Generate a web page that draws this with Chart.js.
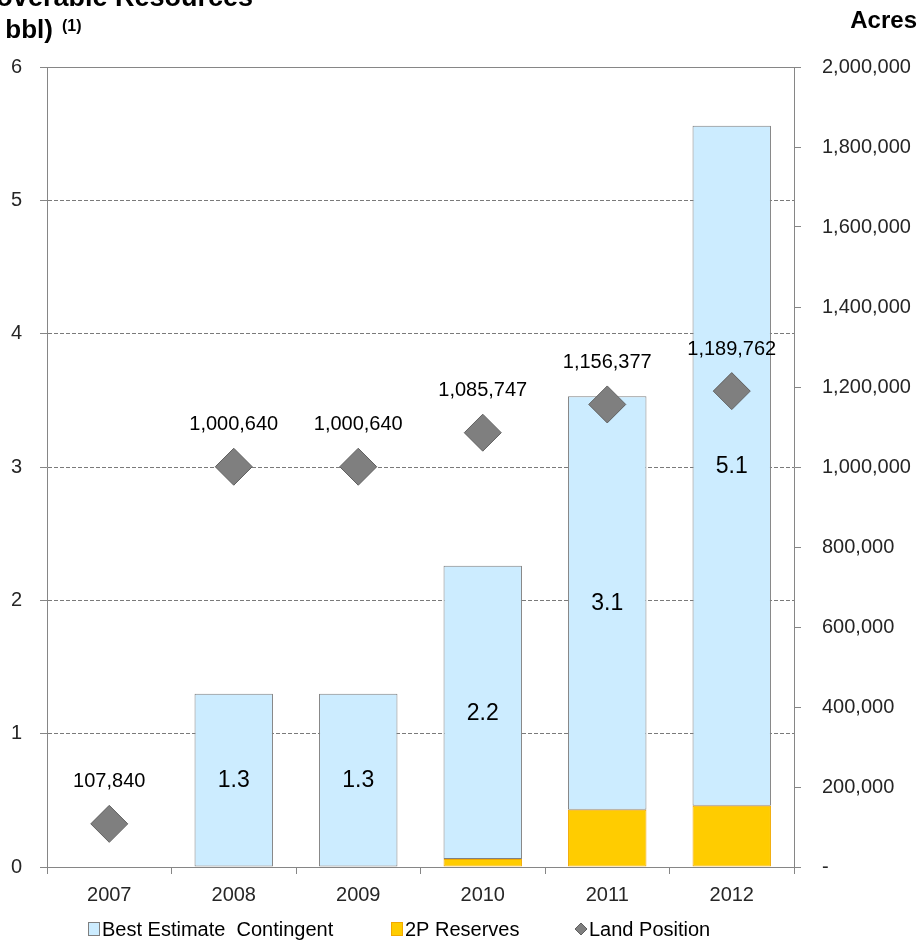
<!DOCTYPE html>
<html>
<head>
<meta charset="utf-8">
<script src="https://cdn.jsdelivr.net/npm/chart.js@4/dist/chart.umd.min.js"></script>
<style>
  html, body { margin: 0; padding: 0; background: #fff; }
  #wrap { width: 922px; height: 940px; position: relative; }
</style>
</head>
<body>
<div id="wrap"><canvas id="c" width="922" height="940"></canvas></div>
<script>
// Years on the category axis
const years = ['2007', '2008', '2009', '2010', '2011', '2012'];
// Recoverable resources, MM bbl
const reserves2P = [null, null, null, 0.06, 0.43, 0.46];
const bestEstimateContingent = [null, 1.3, 1.3, 2.2, 3.1, 5.1];
// Land position, acres
const landPosition = [107840, 1000640, 1000640, 1085747, 1156377, 1189762];
// Axis ranges
const leftAxisMax = 6;
const rightAxisMax = 2000000;
const rightAxisStep = 200000;

const FONT = "'Liberation Sans', Arial, sans-serif";
const fmt = v => Math.round(v).toLocaleString('en-US');

const legendItems = [
  { text: 'Best Estimate  Contingent', kind: 'box', fill: '#CCECFF', stroke: '#7F7F7F', x: 88 },
  { text: '2P Reserves', kind: 'box', fill: '#FFCC00', stroke: '#F2A900', x: 391 },
  { text: 'Land Position', kind: 'diamond', fill: '#7F7F7F', stroke: '#5F5F5F', x: 575 }
];

const labelsPlugin = {
  id: 'labelsPlugin',
  afterDatasetsDraw(chart) {
    const ctx = chart.ctx;
    ctx.save();
    ctx.textAlign = 'center';
    ctx.textBaseline = 'middle';
    ctx.fillStyle = '#000';
    // values inside the contingent segments
    const barMeta = chart.getDatasetMeta(1);
    ctx.font = '23px ' + FONT;
    barMeta.data.forEach((el, i) => {
      const v = bestEstimateContingent[i];
      if (v == null) return;
      ctx.fillText(v.toFixed(1), el.x, (el.y + el.base) / 2 + 1);
    });
    // acreage above the diamonds
    const ptMeta = chart.getDatasetMeta(2);
    ctx.font = '20px ' + FONT;
    ptMeta.data.forEach((el, i) => {
      ctx.fillText(fmt(landPosition[i]), el.x, el.y - 42);
    });
    ctx.restore();
  },
  afterDraw(chart) {
    const ctx = chart.ctx;
    ctx.save();
    // axis titles
    ctx.fillStyle = '#000';
    ctx.textBaseline = 'alphabetic';
    ctx.textAlign = 'right';
    ctx.font = 'bold 27px ' + FONT;
    ctx.fillText('Recoverable Resources', 253, 6);
    ctx.font = 'bold 26px ' + FONT;
    ctx.fillText('(MM bbl)', 53, 38);
    ctx.textAlign = 'left';
    ctx.font = 'bold 16px ' + FONT;
    ctx.fillText('(1)', 62, 31);
    ctx.font = 'bold 24px ' + FONT;
    ctx.textAlign = 'right';
    ctx.fillText('Acres', 917, 28);

    // legend
    const ly = 929;
    ctx.font = '20px ' + FONT;
    ctx.textAlign = 'left';
    ctx.textBaseline = 'middle';
    legendItems.forEach(it => {
      ctx.lineWidth = 1;
      ctx.fillStyle = it.fill;
      ctx.strokeStyle = it.stroke;
      if (it.kind === 'box') {
        ctx.fillRect(it.x + 0.5, ly - 6.5, 11, 13);
        ctx.strokeRect(it.x + 0.5, ly - 6.5, 11, 13);
      } else {
        const cx = it.x + 6;
        ctx.beginPath();
        ctx.moveTo(cx - 6, ly);
        ctx.lineTo(cx, ly - 6);
        ctx.lineTo(cx + 6, ly);
        ctx.lineTo(cx, ly + 6);
        ctx.closePath();
        ctx.fill();
        ctx.stroke();
      }
      ctx.fillStyle = '#000';
      ctx.fillText(it.text, it.x + 14, ly + 1);
    });
    ctx.restore();
  }
};

new Chart(document.getElementById('c'), {
  data: {
    labels: years,
    datasets: [
      {
        type: 'bar',
        label: '2P Reserves',
        data: reserves2P,
        yAxisID: 'y',
        stack: 'res',
        backgroundColor: '#FFCC00',
        borderColor: '#F2A900',
        borderWidth: 1,
        borderSkipped: false,
        categoryPercentage: 1,
        barPercentage: 0.63,
        order: 2
      },
      {
        type: 'bar',
        label: 'Best Estimate Contingent',
        data: bestEstimateContingent,
        yAxisID: 'y',
        stack: 'res',
        backgroundColor: '#CCECFF',
        borderColor: '#808080',
        borderWidth: 1,
        borderSkipped: false,
        categoryPercentage: 1,
        barPercentage: 0.63,
        order: 2
      },
      {
        type: 'line',
        label: 'Land Position',
        data: landPosition,
        yAxisID: 'y1',
        showLine: false,
        pointStyle: 'rectRot',
        pointRadius: 18.5,
        pointHoverRadius: 18.5,
        pointBackgroundColor: '#7F7F7F',
        pointBorderColor: '#606060',
        pointBorderWidth: 1,
        order: 0
      }
    ]
  },
  options: {
    responsive: false,
    animation: false,
    devicePixelRatio: 1,
    layout: { padding: { top: 67, left: 0, right: 0, bottom: 0 } },
    plugins: {
      legend: { display: false },
      tooltip: { enabled: false }
    },
    scales: {
      x: {
        stacked: true,
        offset: true,
        afterFit: s => { s.height = 73; },
        grid: {
          offset: true,
          drawOnChartArea: false,
          color: '#868686',
          tickLength: 7
        },
        border: { color: '#868686', width: 1 },
        ticks: { font: { family: FONT, size: 20 }, color: '#262626', padding: 9 }
      },
      y: {
        stacked: true,
        position: 'left',
        min: 0,
        max: leftAxisMax,
        afterFit: s => { s.width = 47; },
        ticks: { stepSize: 1, font: { family: FONT, size: 20 }, color: '#262626', padding: 18 },
        grid: {
          color: ctx => (ctx.tick && ctx.tick.value === leftAxisMax) ? '#868686' : '#7A7A7A',
          tickColor: '#868686',
          tickLength: 7,
          lineWidth: 1
        },
        border: {
          color: '#868686',
          width: 1,
          dash: ctx => (ctx.tick && ctx.tick.value > 0 && ctx.tick.value < leftAxisMax) ? [4, 2] : []
        }
      },
      y1: {
        position: 'right',
        min: 0,
        max: rightAxisMax,
        afterFit: s => { s.width = 128; },
        ticks: {
          stepSize: rightAxisStep,
          font: { family: FONT, size: 20 },
          color: '#262626',
          padding: 21,
          callback: v => v === 0 ? '-' : fmt(v)
        },
        grid: { drawOnChartArea: false, color: '#868686', tickLength: 7 },
        border: { color: '#868686', width: 1 }
      }
    }
  },
  plugins: [labelsPlugin]
});
</script>
</body>
</html>
